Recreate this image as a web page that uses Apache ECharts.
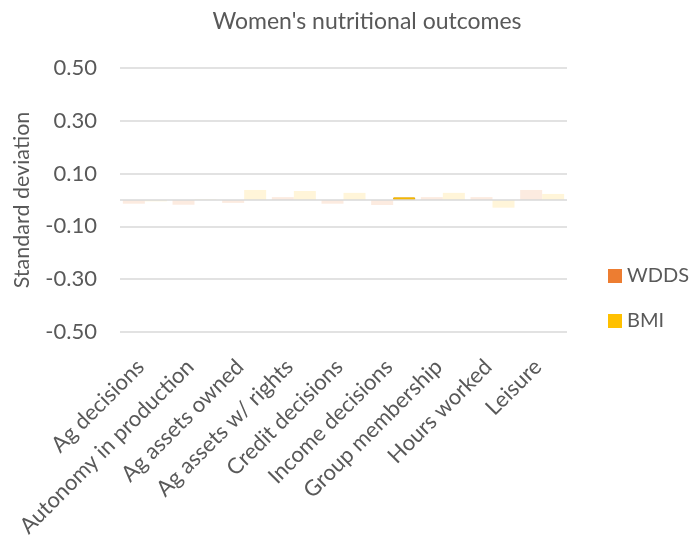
<!DOCTYPE html>
<html>
<head>
<meta charset="utf-8">
<script src="https://cdn.jsdelivr.net/npm/echarts@6/dist/echarts.min.js"></script>
<style>
  html, body { margin: 0; padding: 0; background: #fff; }
  #chart { width: 696px; height: 540px; }
</style>
</head>
<body>
<div id="chart"></div>
<script>
// Domain names along the horizontal axis
var categories = [
  'Ag decisions', 'Autonomy in production', 'Ag assets owned',
  'Ag assets w/ rights', 'Credit decisions', 'Income decisions',
  'Group membership', 'Hours worked', 'Leisure'
];
// Effect sizes in standard deviations
var wdds = [-0.014, -0.018, -0.011, 0.011, -0.014, -0.019, 0.011, 0.011, 0.038];
var bmi  = [-0.005, 0.002, 0.038, 0.034, 0.027, 0.010, 0.027, -0.029, 0.023];
// Only this BMI estimate is drawn at full strength
var highlightIndex = 5;

var FONT = 'Lato, "Open Sans", sans-serif';
var TEXT = '#595959';

function faded(values, color, fadedColor, strongIndex) {
  return values.map(function (v, i) {
    if (i === strongIndex) {
      return { value: v, itemStyle: { color: color, borderColor: '#E6A800', borderWidth: 1 } };
    }
    return { value: v, itemStyle: { color: fadedColor } };
  });
}

var chart = echarts.init(document.getElementById('chart'), null, { renderer: 'canvas' });
chart.setOption({
  animation: false,
  backgroundColor: '#ffffff',
  textStyle: { fontFamily: FONT },
  title: {
    text: "Women's nutritional outcomes",
    left: 362, top: 5, textAlign: 'center',
    textStyle: { fontFamily: FONT, fontSize: 23, fontWeight: 'normal', color: TEXT }
  },
  legend: {
    orient: 'vertical',
    left: 608, top: 266, padding: 0,
    itemWidth: 14, itemHeight: 14, itemGap: 25,
    icon: 'rect',
    textStyle: { fontFamily: FONT, fontSize: 20, color: TEXT },
    data: ['WDDS', 'BMI']
  },
  grid: { left: 120, right: 129, top: 68, bottom: 208, containLabel: false },
  xAxis: {
    type: 'category',
    data: categories,
    axisLine: { show: false, onZero: false },
    axisTick: { show: false },
    axisLabel: {
      rotate: 45, interval: 0, margin: 27, padding: [0, 6, 0, 0],
      fontFamily: FONT, fontSize: 22, color: TEXT
    }
  },
  yAxis: {
    type: 'value',
    min: -0.5, max: 0.5, interval: 0.2,
    name: 'Standard deviation',
    nameLocation: 'middle', nameGap: 87, nameRotate: 90,
    nameTextStyle: { fontFamily: FONT, fontSize: 21.5, color: TEXT },
    axisLine: { show: false },
    axisTick: { show: false },
    axisLabel: {
      margin: 23, fontFamily: FONT, fontSize: 22, color: TEXT,
      formatter: function (v) { return v.toFixed(2); }
    },
    splitLine: { lineStyle: { color: '#d9d9d9', width: 1.5 } }
  },
  series: [
    {
      name: 'WDDS', type: 'bar',
      barWidth: 22, barGap: '0%',
      itemStyle: { color: '#ED7D31' },
      data: faded(wdds, '#ED7D31', '#FCEBE0', -1),
      markLine: {
        silent: true, symbol: 'none', label: { show: false },
        lineStyle: { color: '#d9d9d9', width: 1.5, type: 'solid' },
        data: [{ yAxis: 0 }]
      },
      z: 2
    },
    {
      name: 'BMI', type: 'bar',
      barWidth: 22, barGap: '0%',
      itemStyle: { color: '#FFC000' },
      data: faded(bmi, '#FFC000', '#FFF5D9', highlightIndex),
      z: 3
    }
  ]
});
</script>
</body>
</html>
